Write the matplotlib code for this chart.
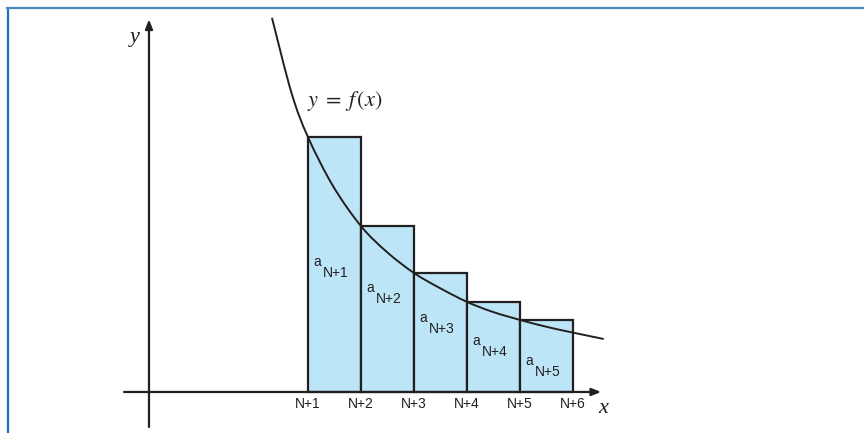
import matplotlib
matplotlib.use("Agg")
import matplotlib.pyplot as plt
from matplotlib.patches import Rectangle, PathPatch
from matplotlib.path import Path
from matplotlib.lines import Line2D

# ---- data (units = bar widths) ----
bar_labels = ["N+1", "N+2", "N+3", "N+4", "N+5"]
tick_labels = ["N+1", "N+2", "N+3", "N+4", "N+5", "N+6"]
bar_left = [1, 2, 3, 4, 5]
bar_heights = [4.81, 3.13, 2.245, 1.70, 1.36]
curve_x = [0.32, 0.69, 1.00, 1.47, 2.00, 2.49, 3.00, 3.49, 4.00, 4.49, 5.00,
           5.50, 6.00, 6.58]
curve_y = [7.06, 5.64, 4.81, 3.89, 3.13, 2.64, 2.245, 1.96, 1.70, 1.51, 1.36,
           1.23, 1.12, 1.00]
label_a_y = [2.45, 1.96, 1.40, 0.96, 0.585]

INK = "#231F20"
FILL = "#BDE5F8"

fig = plt.figure(figsize=(8.64, 4.33), dpi=100)
ax = fig.add_axes([0, 0, 1, 1])
ax.set_xlim(-4.811, 11.491)
ax.set_ylim(-0.774, 7.396)
ax.axis("off")

# bars
for x0, h in zip(bar_left, bar_heights):
    ax.add_patch(Rectangle((x0, 0), 1, h, facecolor=FILL, edgecolor=INK,
                           linewidth=1.6, zorder=2))

# smooth curve through the read points (Catmull-Rom as cubic Bezier path)
pts = list(zip(curve_x, curve_y))
verts = [pts[0]]
codes = [Path.MOVETO]
n = len(pts)
for i in range(n - 1):
    p0 = pts[i - 1] if i > 0 else pts[i]
    p1 = pts[i]
    p2 = pts[i + 1]
    p3 = pts[i + 2] if i + 2 < n else pts[i + 1]
    c1 = (p1[0] + (p2[0] - p0[0]) / 6, p1[1] + (p2[1] - p0[1]) / 6)
    c2 = (p2[0] - (p3[0] - p1[0]) / 6, p2[1] - (p3[1] - p1[1]) / 6)
    verts += [c1, c2, p2]
    codes += [Path.CURVE4] * 3
ax.add_patch(PathPatch(Path(verts, codes), facecolor="none", edgecolor=INK,
                       lw=1.4, zorder=3))

# axes with arrows
ax.annotate("", xy=(6.53, 0), xytext=(-2.47, 0),
            arrowprops=dict(arrowstyle="-|>,head_length=0.55,head_width=0.22",
                            color=INK, lw=1.6, shrinkA=0, shrinkB=0), zorder=4)
ax.annotate("", xy=(-2, 7.03), xytext=(-2, -0.66),
            arrowprops=dict(arrowstyle="-|>,head_length=0.55,head_width=0.22",
                            color=INK, lw=1.6, shrinkA=0, shrinkB=0), zorder=4)

# tick labels
for i, lab in enumerate(tick_labels):
    ax.text(1 + i, -0.23, lab, ha="center", va="center", fontsize=10,
            family="Liberation Sans", color=INK)

# bar labels a_{N+k}
for x0, lab, ay in zip(bar_left, bar_labels, label_a_y):
    ax.text(x0 + 0.10, ay, "a", ha="left", va="center", fontsize=10,
            family="Liberation Sans", color=INK, zorder=5)
    ax.text(x0 + 0.28, ay - 0.21, lab, ha="left", va="center", fontsize=10,
            family="Liberation Sans", color=INK, zorder=5)

# axis names
ax.text(-2.26, 6.68, "y", ha="center", va="center", fontsize=16,
        family="Liberation Serif", style="italic", color=INK)
ax.text(6.57, -0.31, "x", ha="center", va="center", fontsize=16,
        family="Liberation Serif", style="italic", color=INK)
ax.text(1.69, 5.49, r"$y\;=\;f\,(x)$", ha="center", va="center", fontsize=16,
        color=INK, math_fontfamily="stix")

# blue frame
fig.add_artist(Line2D([7.5 / 864, 7.5 / 864], [0, 1 - 8 / 433], color="#1F6FC0",
                      lw=1.6, transform=fig.transFigure))
fig.add_artist(Line2D([7 / 864, 1], [1 - 8 / 433, 1 - 8 / 433], color="#4A8AC4",
                      lw=1.6, transform=fig.transFigure))

fig.savefig("out.png", dpi=100)
